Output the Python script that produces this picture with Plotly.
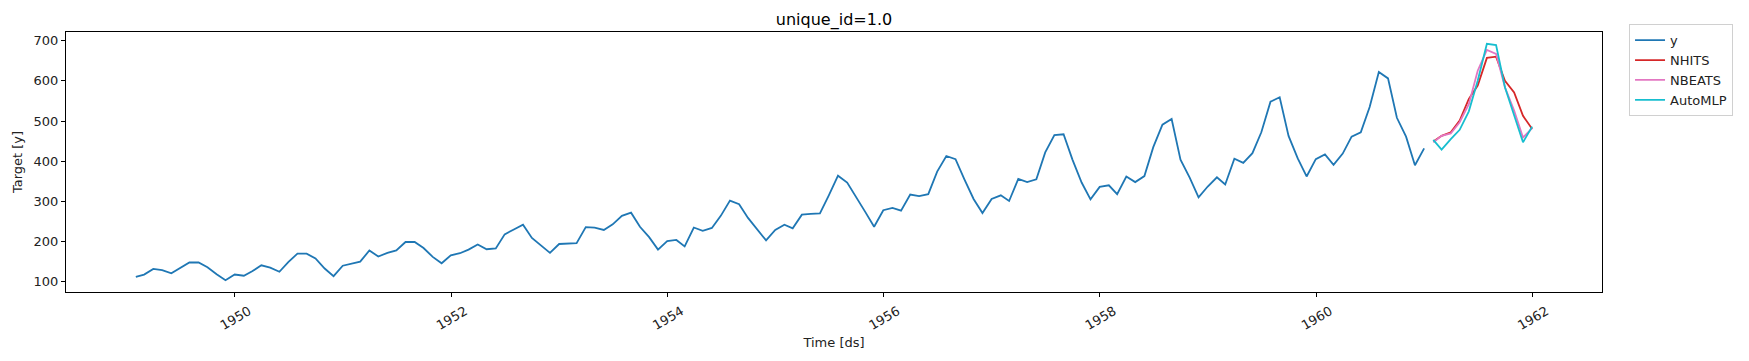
import pandas as pd
import plotly.graph_objects as go

y_values = [
    112, 118, 132, 129, 121, 135, 148, 148, 136, 119, 104, 118,
    115, 126, 141, 135, 125, 149, 170, 170, 158, 133, 114, 140,
    145, 150, 178, 163, 172, 178, 199, 199, 184, 162, 146, 166,
    171, 180, 193, 181, 183, 218, 230, 242, 209, 191, 172, 194,
    196, 196, 236, 235, 229, 243, 264, 272, 237, 211, 180, 201,
    204, 188, 235, 227, 234, 264, 302, 293, 259, 229, 203, 229,
    242, 233, 267, 269, 270, 315, 364, 347, 312, 274, 237, 278,
    284, 277, 317, 313, 318, 374, 413, 405, 355, 306, 271, 306,
    315, 301, 356, 348, 355, 422, 465, 467, 404, 347, 305, 336,
    340, 318, 362, 348, 363, 435, 491, 505, 404, 359, 310, 337,
    360, 342, 406, 396, 420, 472, 548, 559, 463, 407, 362, 405,
    417, 391, 419, 461, 472, 535, 622, 606, 508, 461, 390, 432,
]
nhits = [449, 463, 472, 501, 555, 588, 657, 660, 600, 571, 513, 480]
nbeats = [447, 463, 469, 497, 542, 625, 677, 667, 584, 526, 459, 482]
automlp = [453, 429, 455, 478, 524, 600, 692, 689, 584, 516, 447, 486]

hist_ds = pd.date_range("1949-01-31", periods=len(y_values), freq="ME")
fc_ds = pd.date_range("1961-01-31", periods=len(nhits), freq="ME")

tick_years = [1950, 1952, 1954, 1956, 1958, 1960, 1962]
y_ticks = [100, 200, 300, 400, 500, 600, 700]

colors = {"y": "#1f77b4", "NHITS": "#d62728", "NBEATS": "#e377c2", "AutoMLP": "#17becf"}

fig = go.Figure()
fig.add_trace(go.Scatter(x=hist_ds, y=y_values, mode="lines", name="y",
                         line=dict(color=colors["y"], width=1.8)))
fig.add_trace(go.Scatter(x=fc_ds, y=nhits, mode="lines", name="NHITS",
                         line=dict(color=colors["NHITS"], width=1.8)))
fig.add_trace(go.Scatter(x=fc_ds, y=nbeats, mode="lines", name="NBEATS",
                         line=dict(color=colors["NBEATS"], width=1.8)))
fig.add_trace(go.Scatter(x=fc_ds, y=automlp, mode="lines", name="AutoMLP",
                         line=dict(color=colors["AutoMLP"], width=1.8)))

# matplotlib-like 5% margins
x0, x1 = hist_ds[0], fc_ds[-1]
span = x1 - x0
xr = [x0 - span * 0.05, x1 + span * 0.05]
all_y = y_values + nhits + nbeats + automlp
ymin, ymax = min(all_y), max(all_y)
ys = ymax - ymin
yr = [ymin - 0.05 * ys, ymax + 0.05 * ys]

axis_common = dict(showline=True, linecolor="black", linewidth=1, mirror=True,
                   ticks="outside", ticklen=4, tickcolor="black", showgrid=False,
                   zeroline=False, tickfont=dict(size=13, color="#222222"))

fig.update_layout(
    width=1749, height=361,
    margin=dict(l=66, r=147, t=32, b=69),
    paper_bgcolor="white", plot_bgcolor="white",
    font=dict(family="DejaVu Sans", size=13, color="#222222"),
    title=dict(text="unique_id=1.0", x=(66 + 1602) / 2 / 1749, xanchor="center",
               y=1 - 19.5 / 361, yanchor="middle", font=dict(size=16, color="black")),
    xaxis=dict(range=xr, tickvals=[pd.Timestamp(f"{y}-01-01") for y in tick_years],
               ticktext=[str(y) for y in tick_years], tickangle=-30,
               ticklabelshift=14, ticklabelstandoff=2,
               title=dict(text="Time [ds]", font=dict(size=13), standoff=6), **axis_common),
    yaxis=dict(range=yr, tickvals=y_ticks, ticktext=[str(v) for v in y_ticks],
               title=dict(text="Target [y]", font=dict(size=13), standoff=8), **axis_common),
    legend=dict(x=1.0176, y=1.03, xanchor="left", yanchor="top",
                bordercolor="#d0d0d0", borderwidth=1, bgcolor="white",
                font=dict(size=13), tracegroupgap=0, itemwidth=30),
    showlegend=True,
)

fig.write_html("out.html")
